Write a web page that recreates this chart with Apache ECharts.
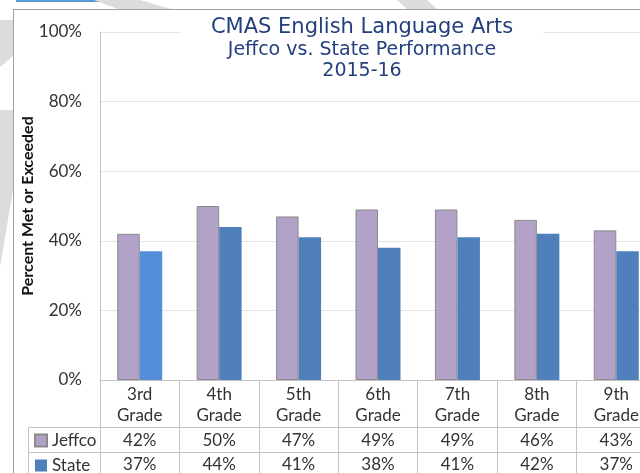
<!DOCTYPE html>
<html>
<head>
<meta charset="utf-8">
<script src="https://cdn.jsdelivr.net/npm/echarts@6/dist/echarts.min.js"></script>
<style>
	html, body { margin: 0; padding: 0; background: #fff; overflow: hidden; }
	#graph1 { width: 660px; height: 473px; }
</style>
</head>
<body>
<div id="graph1"></div>
<script>
// 数据
var grades = ['3rd\nGrade', '4th\nGrade', '5th\nGrade', '6th\nGrade', '7th\nGrade', '8th\nGrade', '9th\nGrade'];
var jeffco = [42, 50, 47, 49, 49, 46, 43];
var state = [37, 44, 41, 38, 41, 42, 37];
var yMin = 0, yMax = 100, yStep = 20;

var bodyFont = 'Lato';
var txtColor = '#333';
var lineColor = '#c4c4c4';

function pct(v) { return v + '%'; }

window.onload = function () {
	var myChart = echarts.init(document.getElementById('graph1'));

	// 州数据第一根柱子颜色偏浅
	var stateData = state.map(function (v, i) {
		if (i === 0) return { value: v, itemStyle: { color: '#548ed8' } };
		return v;
	});

	var option = {
		animation: false,
		backgroundColor: '#fff',
		title: {
			text: 'CMAS English Language Arts',
			subtext: 'Jeffco vs. State Performance\n2015-16',
			textAlign: 'center',
			left: 332,
			top: 11,
			padding: [6, 30, 4, 30],
			itemGap: 0,
			backgroundColor: '#fff',
			textStyle: { fontFamily: 'DejaVu Sans', fontSize: 21, fontWeight: 'normal', color: '#233f7c', lineHeight: 22 },
			subtextStyle: { fontFamily: 'DejaVu Sans', fontSize: 19, color: '#233f7c', lineHeight: 21.5 }
		},
		legend: {
			orient: 'vertical',
			left: 34,
			top: 432,
			height: 80,
			padding: 0,
			icon: 'rect',
			itemWidth: 12,
			itemHeight: 12,
			itemGap: 8,
			itemTextGap: 3,
			textStyle: { fontFamily: bodyFont, fontSize: 17, color: txtColor, lineHeight: 17 },
			data: ['Jeffco', 'State']
		},
		grid: { left: 100, right: 4, top: 32, bottom: 93 },
		xAxis: [
			{
				type: 'category',
				data: grades,
				axisLine: { lineStyle: { color: lineColor } },
				axisTick: { show: true, length: 93, lineStyle: { color: lineColor } },
				axisLabel: { margin: 4, fontFamily: bodyFont, fontSize: 17, lineHeight: 21, color: txtColor, interval: 0 }
			},
			{
				type: 'category',
				position: 'bottom',
				offset: 47,
				data: jeffco.map(pct),
				axisLine: { show: false },
				axisTick: { show: false },
				axisLabel: { margin: 5, fontFamily: bodyFont, fontSize: 17, lineHeight: 17, color: txtColor, interval: 0 }
			},
			{
				type: 'category',
				position: 'bottom',
				offset: 72,
				data: state.map(pct),
				axisLine: { show: false },
				axisTick: { show: false },
				axisLabel: { margin: 4, fontFamily: bodyFont, fontSize: 17, lineHeight: 17, color: txtColor, interval: 0 }
			}
		],
		yAxis: {
			type: 'value',
			min: yMin,
			max: yMax,
			interval: yStep,
			name: 'Percent Met or Exceeded',
			nameLocation: 'middle',
			nameRotate: 90,
			nameGap: 64,
			nameMoveOverlap: false,
			nameTextStyle: { fontFamily: bodyFont, fontSize: 16, fontWeight: 'bold', color: '#111' },
			axisLine: { show: true, lineStyle: { color: lineColor } },
			axisTick: { show: false },
			axisLabel: { formatter: '{value}%', margin: 18, fontFamily: bodyFont, fontSize: 17, color: txtColor },
			splitLine: { lineStyle: { color: '#e4e4e4' } }
		},
		series: [
			{
				name: 'Jeffco',
				type: 'bar',
				barWidth: 22.5,
				barGap: '0%',
				itemStyle: { color: '#b3a2c8', borderColor: '#8a8a8a', borderWidth: 1 },
				data: jeffco
			},
			{
				name: 'State',
				type: 'bar',
				barWidth: 22.5,
				itemStyle: { color: '#4f80bc' },
				data: stateData
			}
		],
		// 外框、表格横线和背景条纹
		graphic: [
			{ type: 'rect', shape: { x: 16, y: 0, width: 86, height: 2 }, style: { fill: '#5b9bd5' }, silent: true },
			{ type: 'polygon', shape: { points: [[94, 0], [140, 0], [171, 9], [118, 9]] }, style: { fill: '#dcdcdc' }, silent: true },
			{ type: 'polygon', shape: { points: [[397, 0], [427, 0], [437, 9], [407, 9]] }, style: { fill: '#dcdcdc' }, silent: true },
			{ type: 'polygon', shape: { points: [[0, 20], [13, 20], [13, 56], [0, 67]] }, style: { fill: '#dcdcdc' }, silent: true },
			{ type: 'polygon', shape: { points: [[0, 110], [13, 110], [13, 190], [0, 267]] }, style: { fill: '#dcdcdc' }, silent: true },
			{ type: 'line', shape: { x1: 13, y1: 9.5, x2: 660, y2: 9.5 }, style: { stroke: '#a0a0a0', lineWidth: 1 }, silent: true },
			{ type: 'line', shape: { x1: 13.5, y1: 9, x2: 13.5, y2: 473 }, style: { stroke: '#a0a0a0', lineWidth: 1 }, silent: true },
			{ type: 'line', shape: { x1: 28, y1: 427.5, x2: 660, y2: 427.5 }, style: { stroke: lineColor, lineWidth: 1 }, silent: true },
			{ type: 'line', shape: { x1: 28, y1: 452.5, x2: 660, y2: 452.5 }, style: { stroke: lineColor, lineWidth: 1 }, silent: true },
			{ type: 'line', shape: { x1: 28.5, y1: 427, x2: 28.5, y2: 473 }, style: { stroke: lineColor, lineWidth: 1 }, silent: true }
		]
	};

	myChart.setOption(option);
};
</script>
</body>
</html>
